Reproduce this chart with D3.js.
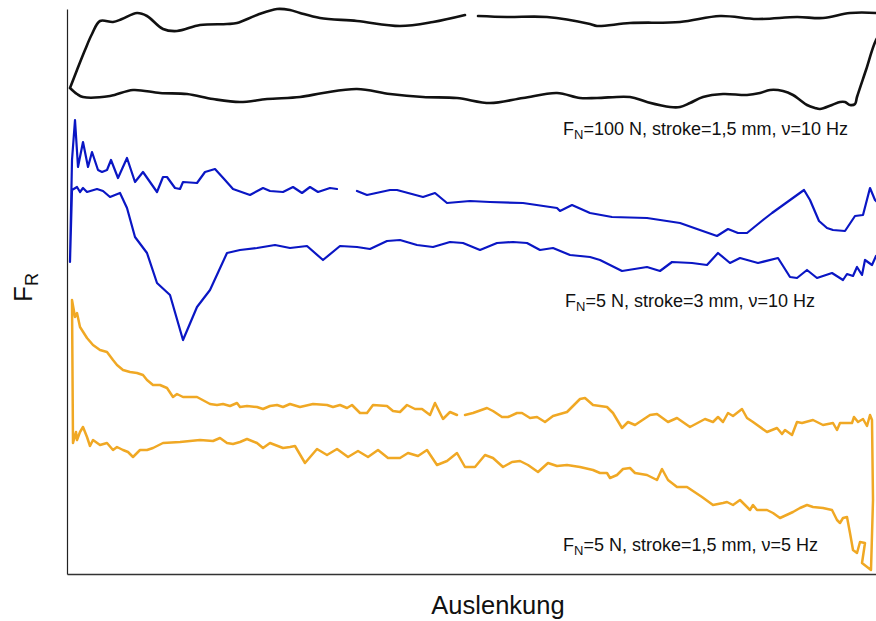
<!DOCTYPE html>
<html>
<head>
<meta charset="utf-8">
<script src="https://cdn.jsdelivr.net/npm/d3@7"></script>
<style>
  html, body { margin: 0; padding: 0; background: #fff; }
  svg { display: block; }
  text { font-family: "Liberation Sans", Arial, sans-serif; fill: #111; }
</style>
</head>
<body>
<svg id="chart" width="876" height="621"></svg>
<script>
// Axis titles
const xTitle = "Auslenkung";
const yTitle = ["F", "R"];

// Curve labels: [main, subscript, rest]
const labelTexts = [
  ["F", "N", "=100 N, stroke=1,5 mm, \u03bd=10 Hz"],
  ["F", "N", "=5 N, stroke=3 mm, \u03bd=10 Hz"],
  ["F", "N", "=5 N, stroke=1,5 mm, \u03bd=5 Hz"]
];
const labelAnchors = [[496, 439], [498, 267], [496, 23]];

// Series: hysteresis loops, [Auslenkung, F_R] (arbitrary units), null = gap
const loop100N = [
  [3,486],[10,504],[18,524],[25,540],[33,553],[46,552],[55,555],[70,561],[80,558],[96,545],
  [110,543],[133,549],[160,550],[170,551],[190,559],[210,565],[223,564],[233,561],[253,556],
  [290,553],[333,548],[366,552],[398,559],null,[411,558],[440,557],[480,557],[523,550],[530,548],
  [563,551],[613,552],[653,558],[690,555],[730,557],[756,556],[783,561],[809,561],[817,560],
  [819,549],[809,534],[799,504],[790,477],[788,470],
  [783,469],[778,472],[773,472],[765,469],[753,465],[748,466],[740,469],[733,474],[726,479],
  [716,483],[703,484],[693,481],[680,479],[656,480],[636,477],[623,471],[613,467],[603,467],
  [580,472],[563,477],[530,476],[513,476],[490,481],[456,476],[423,471],[390,476],[356,477],
  [323,480],[290,485],[256,481],[233,477],[200,475],[173,472],[146,475],[120,480],[93,481],
  [66,484],[43,478],[16,477],[10,480],[3,486]
];

const loop5N3mm = [
  [5,384],[3,312],[5,414],[8,454],[11,407],[16,432],[21,407],[25,422],[31,404],[35,402],
  [40,404],[44,414],[51,396],[60,416],[68,392],[76,402],[90,382],[96,397],[100,397],[108,386],
  [113,385],[116,392],[130,391],[138,402],[148,405],[158,394],[166,385],[183,379],[196,386],
  [203,383],[216,382],[226,387],[235,381],[243,387],[251,382],[263,386],[270,385],null,
  [290,383],[300,379],[323,384],[330,384],[356,377],[368,381],[380,371],[403,373],[423,372],
  [456,371],[490,366],[493,363],[505,369],[523,361],[545,357],[580,356],[613,351],[630,345],
  [650,338],[661,345],[671,341],[680,341],[696,354],[705,361],[737,384],[743,374],[752,353],
  [760,346],[766,344],[778,343],[788,358],[796,359],[803,386],[808,374],[813,369],[815,334],
  [811,317],
  [809,318],[805,309],[798,314],[795,299],[790,307],[786,298],[780,300],[776,294],[765,301],
  [750,296],[740,304],[730,296],[723,297],[711,316],[691,311],[673,316],[663,311],[651,321],
  [640,309],[625,311],[605,312],[593,303],[580,307],[555,303],[533,314],[523,317],[503,319],
  [486,326],[473,324],[460,331],[446,332],[430,331],[413,324],[396,331],[383,332],[366,327],
  [350,329],[333,334],[320,333],[303,325],[290,327],[273,328],[256,314],[240,328],[223,326],
  [208,329],[190,326],[173,324],[160,321],[143,284],[130,267],[116,234],[103,279],[90,291],
  [80,321],[68,337],[60,366],[53,381],[43,377],[36,383],[30,385],[20,382],[16,386],[13,382],
  [10,387],[5,384]
];

const loop5N15mm = [
  [9,142],[6,131],[5,274],[8,257],[10,261],[13,247],[20,236],[26,229],[33,224],[40,222],
  [46,214],[50,209],[56,204],[63,202],[70,201],[76,199],[80,194],[86,189],[93,189],[100,186],
  [106,177],[110,180],[116,177],[123,177],[130,177],[143,170],[150,169],[156,170],[163,168],
  [170,171],[173,167],[180,168],[190,167],[196,165],[203,168],[210,169],[216,167],[223,170],
  [233,167],[246,170],[260,169],[266,167],[273,169],[280,166],[285,169],[293,161],[300,161],
  [306,169],[320,168],[326,163],[333,162],[340,169],[348,165],[355,165],[363,159],[368,171],
  [376,155],[383,162],[390,159],null,[398,159],[406,161],[420,166],[426,163],[435,157],
  [441,157],[450,161],[455,161],[463,156],[470,157],[478,152],[486,158],[500,162],[513,175],
  [518,176],[526,169],[540,167],[546,161],[555,146],[561,152],[568,149],[583,159],[590,160],
  [601,152],[610,156],[623,147],[638,155],[646,152],[651,157],[656,152],[661,161],[666,158],
  [675,165],[680,156],[686,152],[700,142],[710,146],[715,140],[718,144],[725,139],[730,152],
  [735,151],[746,154],[756,149],[766,151],[770,144],[773,151],[785,151],[787,157],[791,152],
  [796,155],[800,148],[803,159],[805,154],[806,74],[804,4],
  [795,11],[798,31],[793,32],[790,21],[786,24],[783,41],[780,57],[776,56],[773,51],[770,54],
  [765,64],[756,66],[746,67],[740,69],[733,66],[726,62],[713,56],[706,61],[700,64],[690,64],
  [686,69],[683,64],[673,74],[666,69],[660,72],[656,71],[646,69],[635,77],[620,87],[610,87],
  [601,94],[595,105],[590,94],[580,99],[568,101],[563,106],[556,105],[550,99],[543,96],
  [540,101],[533,101],[526,104],[513,107],[500,109],[490,108],[481,111],[471,102],[461,109],
  [453,113],[445,112],[436,107],[426,116],[418,119],[408,107],[398,107],[390,121],[380,113],
  [370,109],[360,124],[351,118],[341,121],[333,116],[321,116],[311,124],[301,117],[291,123],
  [281,117],[270,125],[260,119],[250,125],[238,111],[228,128],[223,127],[216,126],[203,131],
  [196,126],[190,131],[180,135],[173,132],[166,130],[160,131],[153,136],[146,133],[133,134],
  [113,132],[96,131],[86,126],[80,124],[73,124],[66,117],[61,122],[56,124],[50,127],[46,124],
  [40,131],[33,129],[26,134],[23,128],[20,137],[16,147],[13,142],[10,134],[9,142]
];

const seriesColors = ["#111111", "#0a16c4", "#f0a824"];
const seriesWidths = [2.6, 2.2, 2.5];

const svg = d3.select("#chart");
const W = 876, H = 621;
const margin = { left: 67, top: 9, bottom: 47 };

const x = d3.scaleLinear().domain([0, 810]).range([margin.left, margin.left + 810]);
const y = d3.scaleLinear().domain([0, 565]).range([H - margin.bottom, margin.top]);

// Axes (no ticks)
const gx = svg.append("g").attr("transform", `translate(0,${H - margin.bottom})`)
  .call(d3.axisBottom(x).ticks(0).tickSize(0).tickSizeOuter(0));
gx.select(".domain").attr("stroke", "#333").attr("stroke-width", 1.6);
const gy = svg.append("g").attr("transform", `translate(${margin.left},0)`)
  .call(d3.axisLeft(y).ticks(0).tickSize(0).tickSizeOuter(0));
gy.select(".domain").attr("stroke", "#222").attr("stroke-width", 1.2);

// Lines
const lineSmooth = d3.line().defined(d => d !== null)
  .x(d => x(d[0])).y(d => y(d[1])).curve(d3.curveCatmullRom.alpha(0.5));
const lineLinear = d3.line().defined(d => d !== null)
  .x(d => x(d[0])).y(d => y(d[1]));

const series = [loop100N, loop5N3mm, loop5N15mm];
series.forEach((s, i) => {
  svg.append("path")
    .attr("d", (i === 0 ? lineSmooth : lineLinear)(s))
    .attr("fill", "none")
    .attr("stroke", seriesColors[i])
    .attr("stroke-width", seriesWidths[i])
    .attr("stroke-linejoin", "round")
    .attr("stroke-linecap", "round");
});

// Curve labels
labelTexts.forEach((t, i) => {
  const [ax, ay] = labelAnchors[i];
  const txt = svg.append("text")
    .attr("x", x(ax)).attr("y", y(ay))
    .attr("font-size", 18).attr("fill", "#222");
  txt.append("tspan").text(t[0]);
  txt.append("tspan").attr("font-size", 13).attr("dy", 4).text(t[1]);
  txt.append("tspan").attr("dy", -4).text(t[2]);
});

// Axis titles
svg.append("text")
  .attr("x", (x(0) + 877) / 2 + 26).attr("y", 614)
  .attr("text-anchor", "middle").attr("font-size", 25.5)
  .text(xTitle);

const yt = svg.append("text")
  .attr("transform", "translate(32,302) rotate(-90)")
  .attr("font-size", 26);
yt.append("tspan").text(yTitle[0]);
yt.append("tspan").attr("font-size", 18).attr("dy", 6).text(yTitle[1]);
</script>
</body>
</html>
